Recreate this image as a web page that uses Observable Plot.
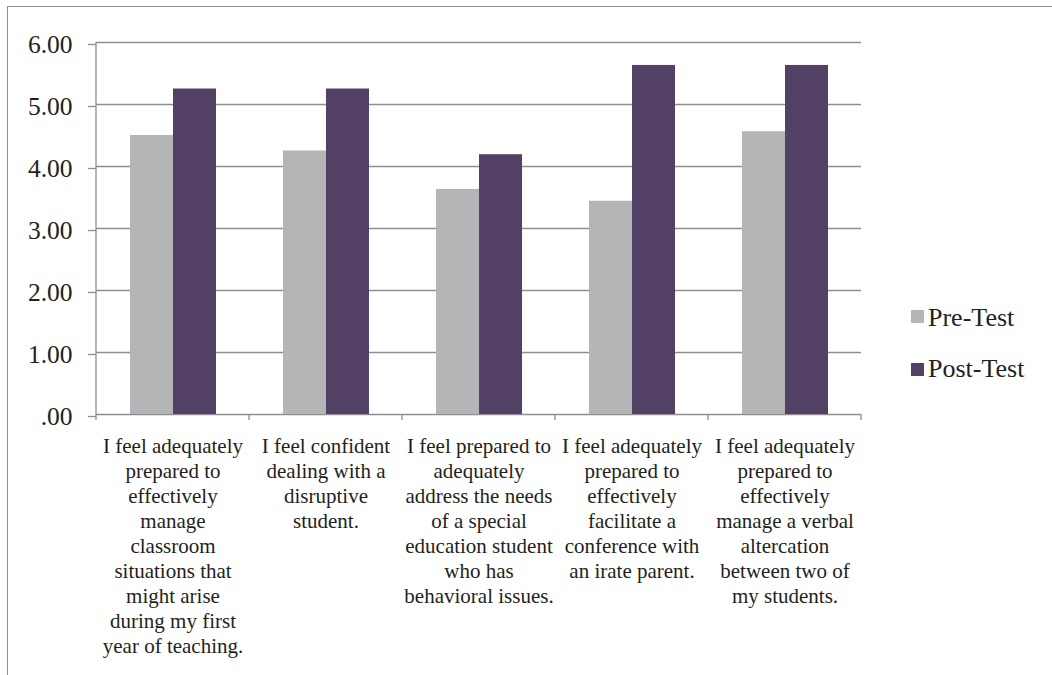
<!DOCTYPE html>
<html>
<head>
<meta charset="utf-8">
<script src="https://cdn.jsdelivr.net/npm/d3@7"></script>
<script src="https://cdn.jsdelivr.net/npm/@observablehq/plot@0.6"></script>
<style>
  html, body { margin: 0; padding: 0; background: #ffffff; }
  #wrap { position: relative; width: 1052px; height: 675px; overflow: hidden; background: #ffffff; }
  #border { position: absolute; left: 7px; top: 6px; width: 2000px; height: 2000px; border: 1.3px solid #8e8e92; box-sizing: border-box; }
  #chart { position: absolute; left: 0; top: 0; }
  #chart svg, #chart svg text { font-family: "Liberation Serif", "Times New Roman", serif !important; }
  .legend { position: absolute; font-family: "Liberation Serif", "Times New Roman", serif; font-size: 26px; color: #231f20; line-height: 1; }
  .legend .sw { position: absolute; width: 12.5px; height: 12.5px; }
  .legend .lb { position: absolute; white-space: nowrap; }
</style>
</head>
<body>
<div id="wrap">
  <div id="border"></div>
  <div id="chart"></div>
  <div class="legend" id="legend"></div>
</div>
<script>
// ---- data ----
const categories = [
  "I feel adequately\nprepared to\neffectively\nmanage\nclassroom\nsituations that\nmight arise\nduring my first\nyear of teaching.",
  "I feel confident\ndealing with a\ndisruptive\nstudent.",
  "I feel prepared to\nadequately\naddress the needs\nof a special\neducation student\nwho has\nbehavioral issues.",
  "I feel adequately\nprepared to\neffectively\nfacilitate a\nconference with\nan irate parent.",
  "I feel adequately\nprepared to\neffectively\nmanage a verbal\naltercation\nbetween two of\nmy students."
];
const seriesNames = ["Pre-Test", "Post-Test"];
const preTest = [4.50, 4.25, 3.63, 3.44, 4.56];
const postTest = [5.25, 5.25, 4.19, 5.63, 5.63];
const yTicks = [0, 1, 2, 3, 4, 5, 6];
const seriesColors = ["#b4b5b7", "#534165"];

// ---- table built from the arrays ----
const table = [];
categories.forEach((c, i) => {
  table.push({category: c, series: seriesNames[0], value: preTest[i]});
  table.push({category: c, series: seriesNames[1], value: postTest[i]});
});

const gridColor = "#8e8e92";
const textColor = "#231f20";
const fmt = d => d === 0 ? ".00" : d.toFixed(2);

const decor = Plot.frame({
  facet: "super",
  render: (index, scales, values, dims) => {
    const l = dims.marginLeft, r = dims.width - dims.marginRight, n = categories.length;
    let edges;
    if (scales.fx && scales.fx.bandwidth) {
      const fx = scales.fx;
      const dom = fx.domain();
      edges = dom.map(c => fx(c)).concat([fx(dom[dom.length - 1]) + fx.bandwidth()]);
    } else {
      edges = d3.range(n + 1).map(i => l + (r - l) * i / n);
    }
    const y = scales.y;
    const y0 = y ? y(0) : dims.height - dims.marginBottom;
    const yTop = y ? y(yTicks[yTicks.length - 1]) : dims.marginTop;
    const g = d3.create("svg:g").attr("stroke", gridColor).attr("stroke-width", 1.3).attr("fill", "none");
    g.append("line").attr("x1", edges[0]).attr("x2", edges[0]).attr("y1", yTop).attr("y2", y0);
    edges.forEach(e => g.append("line").attr("x1", e).attr("x2", e).attr("y1", y0).attr("y2", y0 + 6));
    return g.node();
  }
});

const chart = Plot.plot({
  width: 1052,
  height: 675,
  marginLeft: 96,
  marginRight: 191,
  marginTop: 42,
  marginBottom: 261,
  style: {background: "transparent", fontFamily: "Liberation Serif, serif", color: textColor, overflow: "visible"},
  fx: {domain: categories, padding: 0, label: null},
  x: {domain: seriesNames, paddingInner: 0, paddingOuter: 0.765, axis: null},
  y: {domain: [0, 6], label: null},
  color: {domain: seriesNames, range: seriesColors},
  marks: [
    Plot.gridY(yTicks, {stroke: gridColor, strokeOpacity: 1, strokeWidth: 1.3}),
    Plot.barY(table, {fx: "category", x: "series", y: "value", fill: "series"}),
    Plot.axisY(yTicks, {tickSize: 8, tickPadding: 16, fontSize: 25.5, tickFormat: fmt, stroke: gridColor, strokeWidth: 1.3, fill: textColor, dy: 2, label: null}),
    Plot.axisFx({anchor: "bottom", tickSize: 0, tickPadding: 21, fontSize: 21, lineHeight: 1.19, fill: textColor, label: null, tickFormat: d => d}),
    decor
  ]
});
document.getElementById("chart").appendChild(chart);

// ---- legend ----
const legend = document.getElementById("legend");
const legendRows = [{sq: 310, base: 328}, {sq: 363, base: 379}];
seriesNames.forEach((s, i) => {
  const sw = document.createElement("div");
  sw.className = "sw";
  sw.style.left = "911px";
  sw.style.top = legendRows[i].sq + "px";
  sw.style.background = seriesColors[i];
  legend.appendChild(sw);
  const lb = document.createElement("div");
  lb.className = "lb";
  lb.style.left = "928px";
  lb.style.top = (legendRows[i].base - 23) + "px";
  lb.textContent = s;
  legend.appendChild(lb);
});
</script>
</body>
</html>
